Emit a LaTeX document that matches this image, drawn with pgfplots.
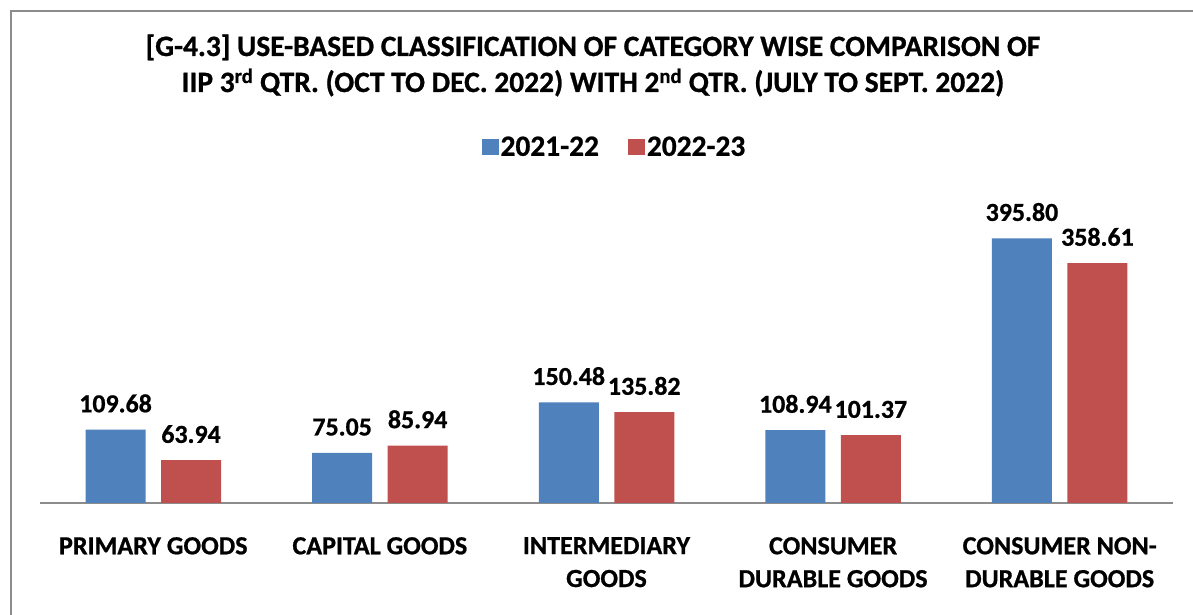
\documentclass[border=0pt]{standalone}
\usepackage{fontspec}
\setmainfont{Carlito}[BoldFeatures={FakeBold=0.8}]
\usepackage{pgfplots}
\pgfplotsset{compat=1.18}
\definecolor{cblue}{HTML}{4F81BD}
\definecolor{cred}{HTML}{C0504D}
\definecolor{framegray}{HTML}{8C8C8C}
\begin{document}
\begin{tikzpicture}
\useasboundingbox (0bp,0bp) rectangle (1193bp,615bp);
\fill[white] (0bp,0bp) rectangle (1193bp,615bp);
\draw[framegray, line width=2.5bp] (11bp,-10bp) -- (11bp,604bp) -- (1210bp,604bp);
\node[font=\bfseries\fontsize{29.6}{36}\selectfont, align=center, anchor=base] at (593bp,559bp)
  {[G-4.3] USE-BASED CLASSIFICATION OF CATEGORY WISE COMPARISON OF};
\node[font=\bfseries\fontsize{29.6}{36}\selectfont, align=center, anchor=base] at (593bp,523bp)
  {IIP 3\textsuperscript{rd} QTR. (OCT TO DEC. 2022) WITH 2\textsuperscript{nd} QTR. (JULY TO SEPT. 2022)};
\begin{axis}[
  at={(40bp,112bp)}, anchor=south west,
  scale only axis, width=1133bp, height=301bp,
  ybar=15.5bp, bar width=60bp,
  xmin=-0.5, xmax=4.5, ymin=0, ymax=450,
  enlargelimits=false,
  axis y line=none,
  axis x line*=bottom,
  x axis line style={framegray, line width=1.5bp, -},
  xtick={0,1,2,3,4},
  major tick length=0pt,
  xticklabels={{PRIMARY GOODS},{CAPITAL GOODS},{INTERMEDIARY\\GOODS},{CONSUMER\\DURABLE GOODS},{CONSUMER NON-\\DURABLE GOODS}},
  x tick label style={font=\bfseries\fontsize{26.2}{33}\selectfont, align=center, anchor=north, inner sep=0pt, yshift=-34bp},
  nodes near coords={\pgfmathprintnumber[fixed,fixed zerofill,precision=2,assume math mode=true]{\pgfplotspointmeta}},
  every node near coord/.append style={font=\bfseries\fontsize{26}{30}\selectfont, black, inner sep=0pt, anchor=south, yshift=17bp},
  legend columns=2,
  legend style={draw=none, fill=none, at={(0.507,1.183)}, anchor=center,
    font=\bfseries\fontsize{29.5}{34}\selectfont,
    /tikz/every even column/.append style={column sep=27bp},
    inner sep=0pt, row sep=0pt},
  legend image code/.code={\fill[#1] (0bp,-8bp) rectangle (17bp,8bp);},
]
\addplot[fill=cblue, draw=none] coordinates {(0,109.68) (1,75.05) (2,150.48) (3,108.94) (4,395.80)};
\addplot[fill=cred, draw=none] coordinates {(0,63.94) (1,85.94) (2,135.82) (3,101.37) (4,358.61)};
\legend{2021-22, 2022-23}
\end{axis}
\end{tikzpicture}
\end{document}
